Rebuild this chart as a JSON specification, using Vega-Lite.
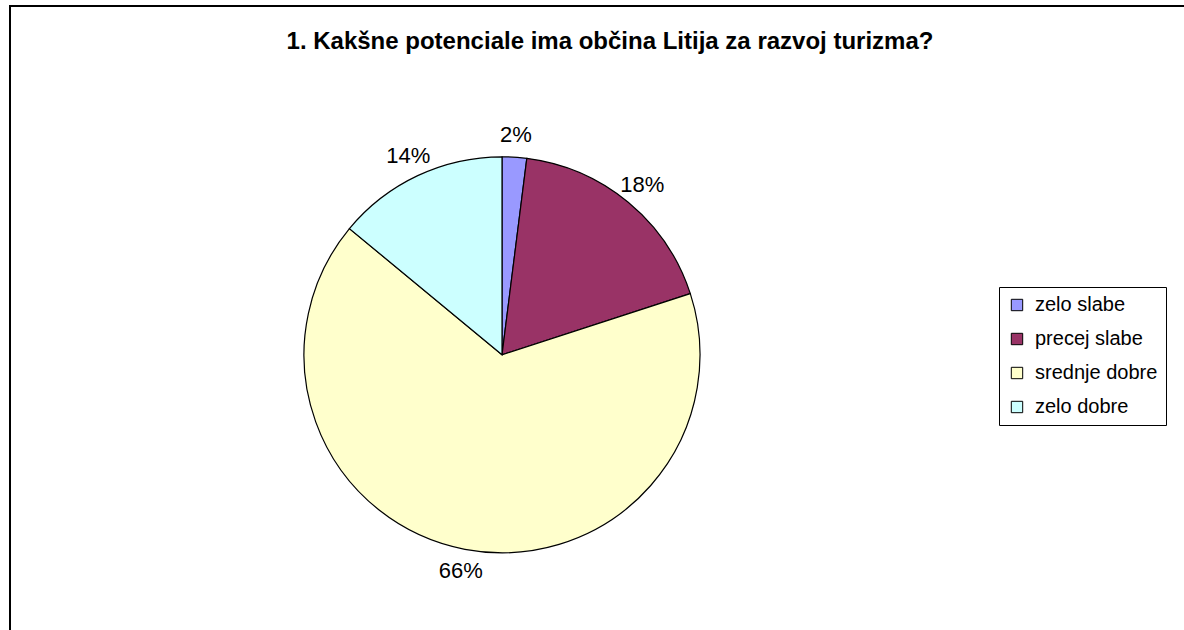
{
  "$schema": "https://vega.github.io/schema/vega-lite/v6.json",
  "autosize": {"type": "none"},
  "width": 1200,
  "height": 640,
  "padding": {"left": 10, "top": 6, "right": 0, "bottom": 0},
  "background": "white",
  "config": {
    "view": {"stroke": "black", "strokeWidth": 2},
    "font": "Liberation Sans"
  },
  "title": {
    "text": "1. Kakšne potenciale ima občina Litija za razvoj turizma?",
    "font": "Liberation Sans",
    "fontSize": 24,
    "fontWeight": "bold",
    "color": "black",
    "anchor": "middle",
    "frame": "group",
    "baseline": "alphabetic",
    "offset": -45,
    "dy": 22
  },
  "data": {
    "values": [
      {"kategorija": "zelo slabe", "delez": 2, "oznaka": "2%", "i": 1},
      {"kategorija": "precej slabe", "delez": 18, "oznaka": "18%", "i": 2},
      {"kategorija": "srednje dobre", "delez": 66, "oznaka": "66%", "i": 3},
      {"kategorija": "zelo dobre", "delez": 14, "oznaka": "14%", "i": 4}
    ]
  },
  "encoding": {
    "theta": {"field": "delez", "type": "quantitative", "stack": true},
    "order": {"field": "i", "type": "quantitative"},
    "x": {"datum": 0.41, "type": "quantitative", "scale": {"domain": [0, 1]}, "axis": null},
    "y": {"datum": 0.455, "type": "quantitative", "scale": {"domain": [0, 1]}, "axis": null}
  },
  "layer": [
    {
      "mark": {"type": "arc", "outerRadius": 198, "stroke": "black", "strokeWidth": 1.2},
      "encoding": {
        "color": {
          "field": "kategorija",
          "type": "nominal",
          "scale": {
            "domain": ["zelo slabe", "precej slabe", "srednje dobre", "zelo dobre"],
            "range": ["#9999FF", "#993366", "#FFFFCC", "#CCFFFF"]
          },
          "legend": {
            "title": null,
            "orient": "none",
            "legendX": 989,
            "legendY": 281,
            "symbolType": "square",
            "symbolSize": 130,
            "symbolStrokeColor": "black",
            "symbolStrokeWidth": 1,
            "labelFont": "Liberation Sans",
            "labelFontSize": 20,
            "labelColor": "black",
            "labelOffset": 8,
            "rowPadding": 14,
            "padding": 8,
            "strokeColor": "black",
            "fillColor": "white"
          }
        }
      }
    },
    {
      "mark": {"type": "text", "radius": 220, "fontSize": 22, "font": "Liberation Sans", "color": "black"},
      "encoding": {
        "text": {"field": "oznaka", "type": "nominal"}
      }
    }
  ]
}
